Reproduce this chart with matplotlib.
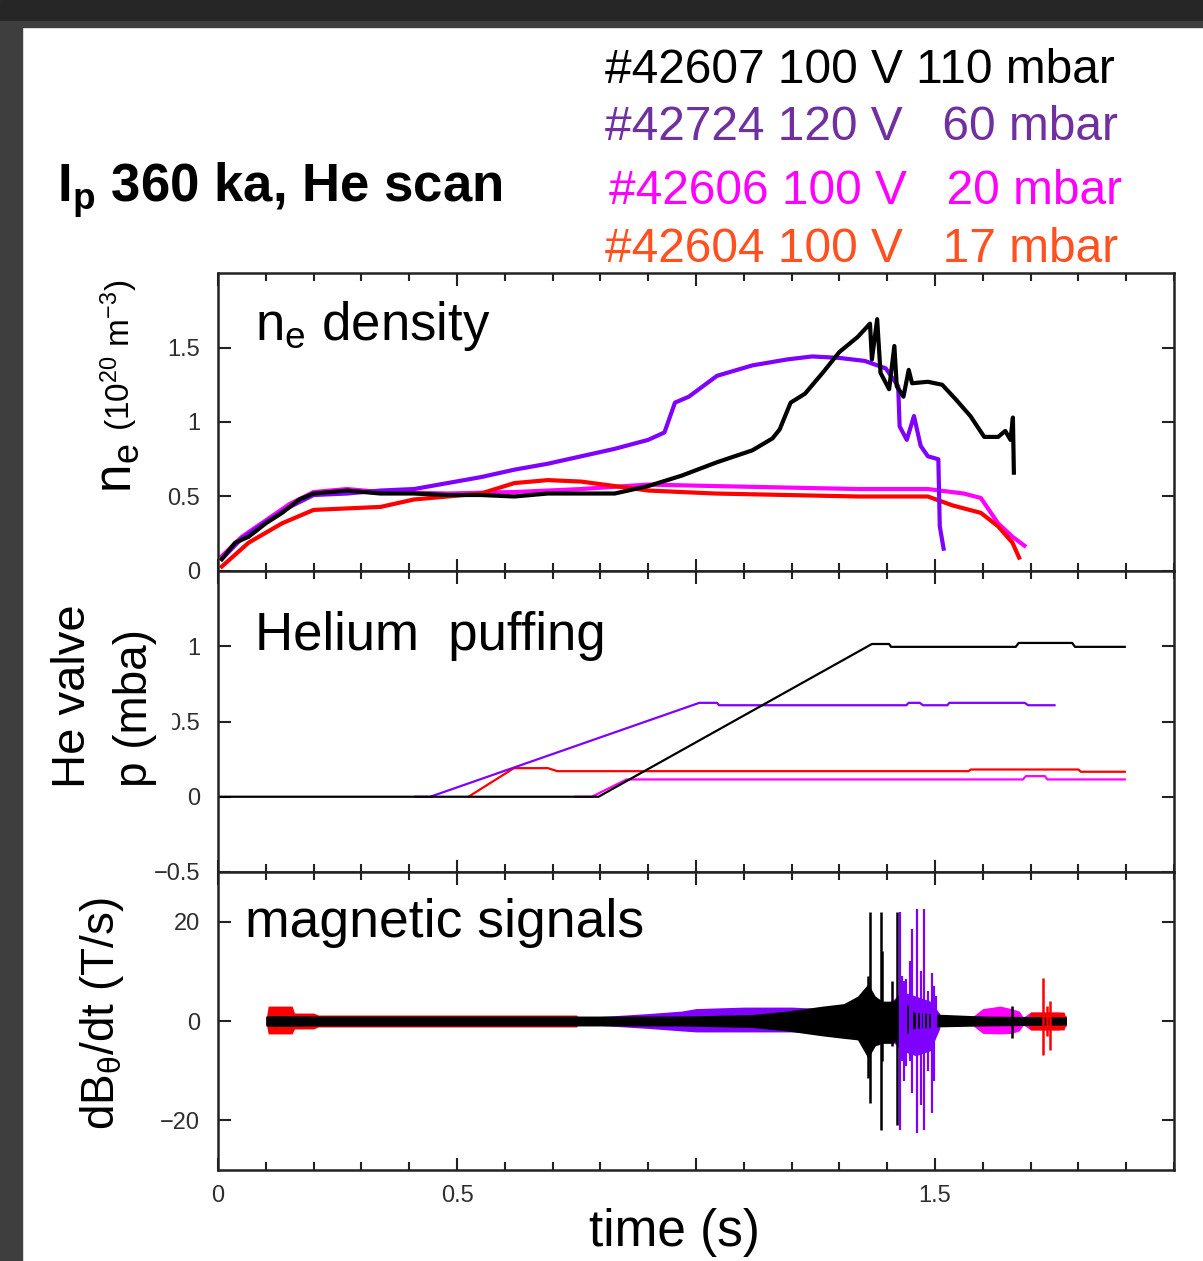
#stacked time traces: density, He valve pressure and magnetic signals for a He scan
import matplotlib
matplotlib.use('Agg')
import matplotlib.pyplot as plt
from matplotlib.patches import Rectangle
from matplotlib.ticker import MultipleLocator

plt.rcParams['font.family'] = ['Liberation Sans', 'DejaVu Sans']
plt.rcParams['mathtext.fontset'] = 'custom'
plt.rcParams['mathtext.rm'] = 'Liberation Sans'
plt.rcParams['mathtext.it'] = 'Liberation Sans:italic'
plt.rcParams['mathtext.bf'] = 'Liberation Sans:bold'

#shots
shots = ['#42607 100 V 110 mbar', '#42724 120 V   60 mbar',
         '#42606 100 V   20 mbar', '#42604 100 V   17 mbar']
shot_text_colors = ['#000000', '#7030a0', '#ff00ff', '#ff5020']

#density ne (1e20 m^-3)
ne_black_t = [0.008, 0.036, 0.064, 0.10, 0.134, 0.17, 0.20, 0.27, 0.34, 0.41, 0.48, 0.55, 0.62, 0.69,
              0.76, 0.83, 0.90, 0.97, 1.044, 1.118, 1.16, 1.175, 1.198, 1.228, 1.265, 1.30, 1.338,
              1.364, 1.368, 1.379, 1.386, 1.404, 1.415, 1.42, 1.434, 1.445, 1.452, 1.485, 1.515,
              1.544, 1.574, 1.603, 1.632, 1.647, 1.658, 1.663, 1.665]
ne_black = [0.08, 0.19, 0.23, 0.32, 0.39, 0.48, 0.52, 0.54, 0.52, 0.52, 0.51, 0.51, 0.50, 0.52,
            0.52, 0.52, 0.57, 0.64, 0.73, 0.81, 0.89, 0.95, 1.13, 1.19, 1.33, 1.47, 1.57,
            1.66, 1.42, 1.69, 1.33, 1.22, 1.51, 1.24, 1.17, 1.35, 1.26, 1.27, 1.25,
            1.15, 1.04, 0.90, 0.90, 0.94, 0.88, 1.03, 0.66]
ne_purple_t = [0.008, 0.05, 0.10, 0.15, 0.20, 0.27, 0.34, 0.41, 0.48, 0.55, 0.62, 0.69, 0.76, 0.83,
               0.90, 0.934, 0.956, 0.985, 1.044, 1.118, 1.191, 1.243, 1.30, 1.353, 1.397, 1.423,
               1.426, 1.441, 1.456, 1.47, 1.485, 1.507, 1.51, 1.518]
ne_purple = [0.08, 0.22, 0.33, 0.43, 0.51, 0.52, 0.54, 0.55, 0.59, 0.63, 0.68, 0.72, 0.77, 0.82,
             0.88, 0.93, 1.13, 1.17, 1.31, 1.38, 1.42, 1.44, 1.43, 1.41, 1.36, 1.24,
             0.97, 0.88, 1.04, 0.84, 0.77, 0.75, 0.30, 0.15]
ne_red_t = [0.008, 0.064, 0.134, 0.20, 0.27, 0.34, 0.41, 0.48, 0.55, 0.62, 0.69, 0.76, 0.83, 0.90,
            1.04, 1.19, 1.34, 1.485, 1.537, 1.596, 1.632, 1.662, 1.676]
ne_red = [0.03, 0.19, 0.32, 0.41, 0.42, 0.43, 0.48, 0.50, 0.52, 0.59, 0.61, 0.60, 0.57, 0.54,
          0.52, 0.51, 0.50, 0.50, 0.44, 0.39, 0.30, 0.19, 0.09]
ne_mag_t = [0.008, 0.05, 0.10, 0.15, 0.20, 0.27, 0.34, 0.48, 0.62, 0.76, 0.90, 1.04, 1.19, 1.34,
            1.485, 1.56, 1.596, 1.632, 1.662, 1.687]
ne_mag = [0.10, 0.23, 0.34, 0.45, 0.53, 0.55, 0.53, 0.52, 0.53, 0.55, 0.58, 0.57, 0.56, 0.55,
          0.55, 0.52, 0.49, 0.32, 0.23, 0.17]

#He valve pressure (mbar)
p_black_t = [0, 0.796, 1.368, 1.404, 1.408, 1.669, 1.675, 1.787, 1.793, 1.897]
p_black = [0, 0, 1.015, 1.015, 0.996, 0.996, 1.022, 1.022, 0.996, 0.996]
p_purple_t = [0.413, 0.444, 1.007, 1.044, 1.048, 1.44, 1.445, 1.468, 1.475, 1.526, 1.53, 1.6875, 1.695, 1.75]
p_purple = [0, 0, 0.624, 0.624, 0.608, 0.608, 0.624, 0.624, 0.608, 0.608, 0.624, 0.624, 0.608, 0.608]
p_red_t = [0.524, 0.619, 0.69, 0.71, 1.57, 1.575, 1.80, 1.805, 1.897]
p_red = [0, 0.19, 0.19, 0.17, 0.17, 0.181, 0.181, 0.166, 0.166]
p_mag_t = [0.748, 0.782, 0.855, 1.684, 1.69, 1.73, 1.735, 1.897]
p_mag = [0, 0, 0.115, 0.115, 0.137, 0.137, 0.115, 0.115]

#magnetic signals dB/dt (T/s): envelopes of the noise band and single spikes
b_black_t = [0.10, 0.12, 0.20, 0.40, 0.60, 0.80, 0.97, 1.118, 1.19, 1.265, 1.309, 1.338, 1.36,
             1.375, 1.39, 1.412, 1.426, 1.456, 1.50, 1.60, 1.70, 1.775]
b_black_hi = [1.0, 1.1, 1.0, 1.0, 1.0, 1.0, 1.0, 1.3, 2.0, 3.0, 3.5, 5.0, 7.5,
              5.0, 4.0, 4.0, 5.0, 1.8, 1.4, 1.0, 0.9, 0.8]
b_black_lo = [-1.0, -1.1, -1.0, -1.0, -1.0, -1.0, -1.0, -1.3, -2.0, -3.0, -3.5, -3.8, -7.5,
              -5.0, -4.5, -4.5, -3.5, -1.5, -1.2, -1.0, -0.9, -0.8]
b_purple_t = [0.10, 0.40, 0.80, 0.90, 0.97, 1.0, 1.1, 1.2, 1.265, 1.30, 1.41, 1.43, 1.46, 1.49, 1.51]
b_purple_hi = [0.8, 0.8, 0.9, 1.5, 2.0, 2.5, 2.8, 2.8, 2.5, 2.0, 4.0, 6.0, 5.0, 4.0, 1.5]
b_purple_lo = [-0.8, -0.8, -0.9, -1.5, -2.0, -2.2, -2.2, -2.2, -2.2, -2.0, -4.0, -6.0, -7.0, -6.0, -1.5]
b_mag_t = [1.58, 1.60, 1.636, 1.66, 1.676, 1.685, 1.70, 1.73, 1.76, 1.775]
b_mag_hi = [1.0, 2.5, 3.0, 2.5, 2.0, 0.8, 1.8, 1.8, 1.8, 1.0]
b_mag_lo = [-1.0, -2.5, -2.6, -2.5, -2.0, -0.8, -1.8, -1.8, -1.8, -1.0]
b_red_t = [0.10, 0.105, 0.155, 0.16, 0.20, 0.21, 0.75, 0.76, 1.69, 1.70, 1.77, 1.775]
b_red_hi = [0.0, 3.0, 3.0, 1.6, 1.6, 1.2, 1.2, 0.0, 0.0, 1.8, 1.8, 0.0]
b_red_lo = [0.0, -2.6, -2.6, -1.6, -1.6, -1.2, -1.2, 0.0, 0.0, -1.8, -1.8, 0.0]

spk_black_t = [1.36, 1.364, 1.386, 1.39, 1.41, 1.42, 1.662]
spk_black_hi = [9, 22, 22, 14, 8, 22, 3]
spk_black_lo = [-11.4, -16.6, -22, -8, -5, -21, -3.5]
spk_purple_t = [1.426, 1.432, 1.435, 1.44, 1.447, 1.452, 1.463, 1.47, 1.478, 1.485, 1.493, 1.498, 1.503]
spk_purple_hi = [22, 9, 8, 8.5, 12, 18.5, 22.5, 10, 22.5, 6, 9.7, 7, 5]
spk_purple_lo = [-22, -8, -12, -9, -8, -14.5, -22.5, -17, -22, -10, -18.6, -12, -2.5]
spk_red_t = [1.726, 1.735, 1.74]
spk_red_hi = [8.7, 3.0, 4.0]
spk_red_lo = [-6.8, -3.0, -5.8]

W, H = 1203, 1261

def fx(px):
    return px / W

def fy(py):
    return 1 - py / H

fig = plt.figure(figsize=(W / 100, H / 100), dpi=100)
fig.patch.set_facecolor('white')

#dark window frame of the slide screenshot
fig.patches.append(Rectangle((0, fy(21)), 1, 21 / H, transform=fig.transFigure, color='#262626', zorder=0))
fig.patches.append(Rectangle((0, fy(27)), 1, 6 / H, transform=fig.transFigure, color='#3e3e3e', zorder=0))
fig.patches.append(Rectangle((0, 0), 22 / W, fy(27), transform=fig.transFigure, color='#3e3e3e', zorder=0))

left, right = fx(218), fx(1174)
ax1 = fig.add_axes([left, fy(571), right - left, fy(273) - fy(571)])
ax2 = fig.add_axes([left, fy(872), right - left, fy(571) - fy(872)])
ax3 = fig.add_axes([left, fy(1170), right - left, fy(872) - fy(1170)])

def style(ax, ylim, yticks, ylabels, xlabels=False):
    ax.set_xlim(0, 2)
    ax.set_ylim(*ylim)
    ax.set_xticks([0, 0.5, 1, 1.5])
    ax.xaxis.set_minor_locator(MultipleLocator(0.1))
    ax.set_yticks(yticks)
    ax.set_yticklabels(ylabels)
    if xlabels:
        ax.set_xticklabels(['0', '0.5', '', '1.5'])
    else:
        ax.set_xticklabels([])
    ax.tick_params(which='both', direction='in', top=True, right=True,
                   color='#222222', labelcolor='#2e2e2e', labelsize=17)
    ax.tick_params(which='major', length=9, width=1.5)
    ax.tick_params(which='minor', length=6, width=1.5)
    ax.tick_params(axis='y', pad=13)
    ax.tick_params(axis='x', pad=11)
    for s in ax.spines.values():
        s.set_linewidth(1.8)
        s.set_color('#222222')

#density
ax1.plot(ne_mag_t, ne_mag, color='#ff00ff', lw=3)
ax1.plot(ne_red_t, ne_red, color='#ff0000', lw=3)
ax1.plot(ne_purple_t, ne_purple, color='#8000ff', lw=3)
ax1.plot(ne_black_t, ne_black, color='black', lw=3)
style(ax1, (0, 2), [0, 0.5, 1, 1.5], ['0', '0.5', '1', '1.5'])

#He valve
ax2.plot(p_red_t, p_red, color='#ff0000', lw=1.6)
ax2.plot(p_mag_t, p_mag, color='#ff00ff', lw=1.6)
ax2.plot(p_purple_t, p_purple, color='#8000ff', lw=1.6)
ax2.plot(p_black_t, p_black, color='black', lw=1.6)
style(ax2, (-0.5, 1.5), [-0.5, 0, 0.5, 1], ['\u22120.5', '0', '0.5', '1'])

#magnetic signals
ax3.fill_between(b_purple_t, b_purple_lo, b_purple_hi, color='#8000ff', lw=0)
ax3.fill_between(b_mag_t, b_mag_lo, b_mag_hi, color='#ff00ff', lw=0)
ax3.fill_between(b_red_t, b_red_lo, b_red_hi, color='#ff0000', lw=0)
ax3.fill_between(b_black_t, b_black_lo, b_black_hi, color='black', lw=0)
ax3.vlines(spk_black_t, spk_black_lo, spk_black_hi, color='black', lw=1.8)
ax3.vlines(spk_purple_t, spk_purple_lo, spk_purple_hi, color='#8000ff', lw=1.6)
ax3.vlines(spk_red_t, spk_red_lo, spk_red_hi, color='#ff0000', lw=1.8)
style(ax3, (-30, 30), [-20, 0, 20], ['\u221220', '0', '20'], xlabels=True)

#title and shot list
fig.text(fx(57), fy(202), r'I$_\mathregular{p}$ 360 ka, He scan', fontsize=38,
         fontweight='bold', va='baseline')
base = [83, 140, 204, 262]
xs = [605, 605, 609, 605]
for s, c, b, x0 in zip(shots, shot_text_colors, base, xs):
    fig.text(fx(x0), fy(b), s, fontsize=34.5, color=c, va='baseline')

#panel labels
fig.text(fx(255), fy(340), r'n$_\mathregular{e}$ density', fontsize=38, va='baseline')
fig.text(fx(255), fy(650), 'Helium  puffing', fontsize=38, va='baseline')
fig.text(fx(245), fy(937), 'magnetic signals', fontsize=38.5, va='baseline')
fig.text(fx(674), fy(1246), 'time (s)', fontsize=37, ha='center', va='baseline')

#y axis labels
fig.text(fx(117), fy(468), r'n$_\mathregular{e}$', fontsize=37, rotation=90, ha='center', va='center')
fig.text(fx(119), fy(355), r'(10$^\mathregular{20}$ m$^\mathregular{-3}$)', fontsize=24,
         rotation=90, ha='center', va='center')
fig.text(fx(73), fy(696), 'He valve', fontsize=34, rotation=90, ha='center', va='center')
#white backing of the pasted label, it hides part of the 0.5 tick label
fig.patches.append(Rectangle((fx(108), fy(790)), fx(171) - fx(108), (790 - 620) / H,
                             transform=fig.transFigure, color='white', zorder=4))
fig.text(fx(135), fy(708), 'p (mba)', fontsize=33, rotation=90, ha='center', va='center', zorder=5)
fig.text(fx(102), fy(1014), r'dB$_\mathregular{\theta}$/dt (T/s)', fontsize=33, rotation=90,
         ha='center', va='center')

fig.savefig('out.png', dpi=100)
